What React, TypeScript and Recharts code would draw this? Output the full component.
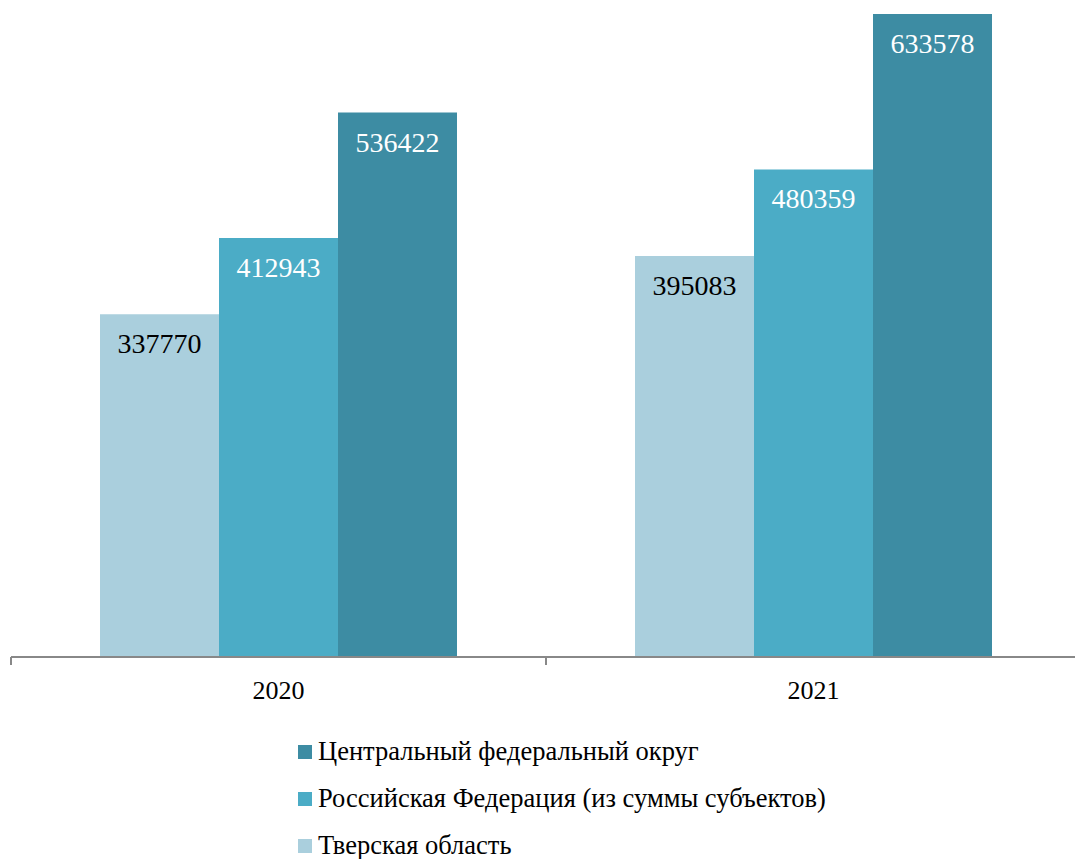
import { BarChart, Bar, XAxis, YAxis, LabelList } from "recharts";

const years = ["2020", "2021"];
const tverValues = [337770, 395083];
const rfValues = [412943, 480359];
const cfoValues = [536422, 633578];

const seriesNames = {
  tver: "Тверская область",
  rf: "Российская Федерация (из суммы субъектов)",
  cfo: "Центральный федеральный округ",
};

const colors = {
  tver: "#AACFDD",
  rf: "#4BACC6",
  cfo: "#3D8CA3",
};

const data = years.map((year, i) => ({
  year,
  tver: tverValues[i],
  rf: rfValues[i],
  cfo: cfoValues[i],
}));

const FONT = "Liberation Serif";
const WIDTH = 1090;
const HEIGHT = 859;
const MARGIN = { top: 14, right: 9, left: 11, bottom: 0 };
const BAND = (WIDTH - MARGIN.left - MARGIN.right) / years.length;

const legendOrder: Array<keyof typeof colors> = ["cfo", "rf", "tver"];

function makeLabel(fill: string) {
  return (props: any) => {
    const { x, y, width, value } = props;
    return (
      <text
        x={x + width / 2}
        y={y + 39}
        textAnchor="middle"
        fill={fill}
        style={{ fontSize: 28, fontFamily: FONT }}
      >
        {value}
      </text>
    );
  };
}

function AxisTick(props: any) {
  const { x, y, payload, index } = props;
  return (
    <g>
      <line x1={x - BAND / 2} y1={y - 8} x2={x - BAND / 2} y2={y} stroke="#888" strokeWidth={2} />
      {index === years.length - 1 && (
        <line x1={x + BAND / 2} y1={y - 8} x2={x + BAND / 2} y2={y} stroke="#888" strokeWidth={2} />
      )}
      <text x={x} y={y + 34} textAnchor="middle" fill="#000" style={{ fontSize: 26, fontFamily: FONT }}>
        {payload.value}
      </text>
    </g>
  );
}

function LegendBlock() {
  return (
    <div style={{ position: "absolute", left: 298, top: 728, fontFamily: FONT, fontSize: 26.5, lineHeight: 1, color: "#000" }}>
      {legendOrder.map((key) => (
        <div key={key} style={{ display: "flex", alignItems: "center", height: 47, whiteSpace: "nowrap" }}>
          <span
            style={{
              display: "inline-block",
              width: 14,
              height: 14,
              background: colors[key],
              marginRight: 6,
            }}
          />
          <span>{seriesNames[key]}</span>
        </div>
      ))}
    </div>
  );
}

export default function App() {
  return (
    <div style={{ position: "absolute", left: 0, top: 0, width: 1075, height: 859, overflow: "hidden", background: "#fff" }}>
      <BarChart
        width={WIDTH}
        height={HEIGHT}
        data={data}
        margin={MARGIN}
        barGap={0}
        barCategoryGap={89}
      >
        <XAxis
          dataKey="year"
          height={202}
          axisLine={{ stroke: "#888", strokeWidth: 2 }}
          tickLine={false}
          tick={<AxisTick />}
          interval={0}
        />
        <YAxis hide domain={[0, 633578]} />
        <Bar dataKey="tver" name={seriesNames.tver} fill={colors.tver} isAnimationActive={false}>
          <LabelList dataKey="tver" content={makeLabel("#000")} />
        </Bar>
        <Bar dataKey="rf" name={seriesNames.rf} fill={colors.rf} isAnimationActive={false}>
          <LabelList dataKey="rf" content={makeLabel("#fff")} />
        </Bar>
        <Bar dataKey="cfo" name={seriesNames.cfo} fill={colors.cfo} isAnimationActive={false}>
          <LabelList dataKey="cfo" content={makeLabel("#fff")} />
        </Bar>
      </BarChart>
      <LegendBlock />
    </div>
  );
}
